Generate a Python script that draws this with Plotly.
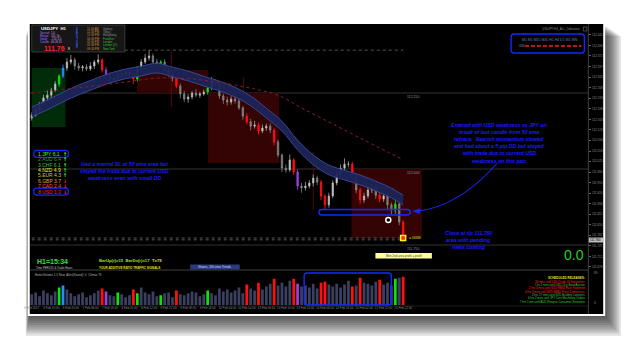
import plotly.graph_objects as go

W, H = 625, 338
def px(x): return x / W
def py(y): return 1 - y / H

# ---------------- data ----------------
closes = [
    112.178, 112.194, 112.214, 112.234, 112.243, 112.260, 112.280, 112.306, 112.332, 112.352,
    112.359, 112.339, 112.332, 112.336, 112.329, 112.339, 112.352, 112.359, 112.326, 112.306,
    112.293, 112.299, 112.309, 112.313, 112.319, 112.309, 112.296, 112.332, 112.352, 112.365,
    112.372, 112.352, 112.345, 112.352, 112.326, 112.313, 112.299, 112.273, 112.247, 112.230,
    112.237, 112.250, 112.243, 112.247, 112.253, 112.266, 112.286, 112.280, 112.240, 112.227,
    112.220, 112.230, 112.224, 112.201, 112.174, 112.155, 112.141, 112.145, 112.125, 112.135,
    112.141, 112.128, 112.089, 112.046, 112.003, 111.997, 112.030, 111.990, 111.944, 111.938,
    111.944, 111.954, 111.970, 111.957, 111.911, 111.882, 111.911, 111.954, 111.984, 112.003,
    112.016, 112.016, 111.970, 111.931, 111.898, 111.911, 111.931, 111.938, 111.914, 111.901,
    111.911, 111.882, 111.865, 111.885, 111.826, 111.766]
first_open = 112.168
wick_up = [0.8, 1.2, 0.6, 1.0, 1.5, 0.7, 0.9, 0.5, 1.1, 1.3,
           1.6, 0.8, 1.0, 0.6, 0.9, 1.2, 0.7, 1.8, 0.5, 0.9,
           1.1, 0.7, 0.8, 1.3, 0.6, 1.0, 0.8, 0.7, 0.9, 1.4,
           1.9, 0.8, 1.1, 0.6, 0.9, 0.7, 1.2, 0.5, 0.8, 1.0,
           0.9, 0.6, 1.3, 0.7, 0.8, 1.0, 1.6, 0.9, 0.6, 0.8,
           1.1, 0.9, 0.7, 0.8, 0.6, 0.9, 1.0, 1.3, 0.7, 1.1,
           0.8, 0.9, 0.6, 0.7, 0.5, 1.2, 1.8, 0.6, 0.8, 1.0,
           1.3, 0.9, 1.2, 0.8, 0.7, 0.6, 1.1, 0.9, 1.0, 1.2,
           1.9, 1.0, 0.8, 0.7, 0.9, 1.1, 1.4, 0.8, 1.0, 0.9,
           1.2, 1.5, 0.8, 1.3, 0.7, 0.6]
wick_dn = [0.9, 0.6, 1.1, 0.7, 0.8, 1.2, 0.6, 0.9, 0.7, 1.0,
           0.8, 1.3, 0.9, 1.1, 0.7, 0.6, 1.0, 0.8, 0.9, 1.2,
           1.4, 0.8, 0.6, 0.9, 1.1, 0.7, 1.6, 0.8, 0.7, 0.6,
           0.9, 1.0, 0.8, 1.2, 0.7, 0.9, 1.1, 0.8, 1.5, 1.0,
           1.2, 0.8, 0.7, 0.9, 0.6, 0.8, 0.7, 1.0, 0.9, 1.3,
           1.1, 0.8, 0.9, 0.7, 1.2, 0.9, 1.4, 0.8, 1.2, 0.7,
           0.9, 1.0, 1.1, 0.8, 1.3, 0.9, 0.7, 1.0, 1.2, 1.6,
           0.9, 0.8, 1.1, 1.0, 1.3, 1.8, 0.9, 0.7, 0.8, 0.9,
           0.7, 1.0, 1.2, 1.1, 1.3, 0.9, 0.8, 1.0, 1.2, 1.1,
           0.9, 1.4, 1.6, 1.2, 1.1, 0.8]
highlight_idx = [7, 8, 18, 19, 22, 26, 27, 33, 37, 45, 55, 58, 62, 67, 68, 74, 75, 82, 84, 89, 93, 95]
highlight_cls = ['g', 'b', 'r', 'p', 'g', 'r', 'g', 'g', 'r', 'g', 'r', 'r', 'r', 'r', 'p', 'r', 'r', 'r', 'r', 'r', 'g', 'r']
volumes = [1100, 1300, 900, 1500, 1200, 1000, 1400, 1800, 2000, 1600,
           1200, 900, 1100, 1300, 800, 1000, 1200, 1500, 1700, 1400,
           1000, 900, 1300, 1100, 800, 1000, 1600, 1200, 1800, 1300,
           1100, 1400, 900, 1000, 1200, 1300, 800, 1500, 1100, 1000,
           1200, 1400, 1300, 900, 1100, 1500, 1200, 1000, 1700, 1400,
           1600, 1300, 1500, 1800, 1200, 2100, 1700, 1500, 2300, 1600,
           1900, 2200, 2700, 2000, 2300, 1900, 2500, 2700, 2200, 1900,
           2000, 1800, 2200, 1700, 2300, 2400, 2100, 1900, 2200, 1800,
           2100, 2500, 1900, 2000, 2800, 2300, 2200, 2000, 2400, 2600,
           2100, 2300, 2000, 2700, 2800, 2900]

ema_x = [0, 4, 8, 12, 16, 20, 24, 28, 32, 36, 40, 44, 48, 52, 56, 60, 64, 68, 72, 76, 80, 84, 88, 92, 95]
ema_upper = [112.204, 112.227, 112.253, 112.276, 112.296, 112.315, 112.329, 112.338, 112.348, 112.335,
             112.322, 112.305, 112.289, 112.269, 112.240, 112.200, 112.157, 112.095, 112.046, 112.013,
             111.996, 111.980, 111.960, 111.937, 111.914]
ema_lower = [112.172, 112.195, 112.221, 112.244, 112.264, 112.283, 112.297, 112.306, 112.316, 112.303,
             112.290, 112.273, 112.257, 112.237, 112.208, 112.168, 112.125, 112.063, 112.014, 111.981,
             111.964, 111.948, 111.928, 111.905, 111.882]
ma_x = [0, 11, 24, 32, 41, 49, 57, 63, 69, 77, 85, 91, 95]
ma_val = [112.250, 112.266, 112.286, 112.299, 112.296, 112.283, 112.263, 112.243, 112.201, 112.148,
          112.095, 112.056, 112.030]

zone_x0 = [0, 26.9, 45.1, 81.8]
zone_x1 = [8.6, 45.1, 63.3, 99.8]
zone_top = [112.332, 112.326, 112.250, 112.000]
zone_bot = [112.138, 112.250, 112.020, 111.773]
zone_kind = ['buy', 'sell', 'sell', 'sell']

level_prices = [112.250, 112.000, 111.750]
level_labels = ["112.250", "112.000", "111.750"]
dotted_prices = [112.391, 111.773, 111.767]
dotted_from = [23.8, 0, 0]
dotted_to = [95, 95, 95]
vline_bar = [35.7, 54.2, 72.0]
vline_top = [112.387, 112.303, 112.056]
vline_bot = [112.204, 112.243, 111.865]

entry_bar, entry_price = [91.2], [111.832]
exit_bar, exit_price = [95], [111.773]

price_ticks = [112.441, 112.406, 112.372, 112.337, 112.302, 112.268, 112.233, 112.198, 112.163,
               112.129, 112.094, 112.059, 112.025, 111.990, 111.955, 111.920, 111.886, 111.851,
               111.816, 111.782, 111.747, 111.712, 111.678]
date_ticks = [0, 5, 10, 15, 20, 25, 30, 35, 40, 45, 50, 55, 60, 65, 70, 75, 80, 85, 90, 95]
date_labels = ["6 Feb 2017", "6 Feb 10:00", "6 Feb 20:00", "7 Feb 06:00", "7 Feb 16:00",
               "8 Feb 02:00", "8 Feb 12:00", "8 Feb 22:00", "9 Feb 08:00", "9 Feb 18:00",
               "10 Feb 04:00", "10 Feb 14:00", "13 Feb 00:00", "13 Feb 10:00", "13 Feb 20:00",
               "14 Feb 06:00", "14 Feb 16:00", "15 Feb 02:00", "15 Feb 12:00", "15 Feb 22:00"]

strength_names = ["1.JPY", "2.AUD", "3.CHF", "4.NZD", "5.EUR", "6.GBP", "7.CAD", "8.USD"]
strength_vals = [6.1, 6.4, 6.1, 4.9, 4.3, 3.7, 2.4, 1.0]
strength_cols = ["#30ff30", "#2aa02a", "#40c040", "#e8e830", "#c8c840", "#e0a030", "#ff5030", "#ff2020"]
strength_up = [True, True, True, True, True, False, False, False]

news_lines = ["30 mins until USD Crude Oil Inventories", "1 hr 2 mins until USD 10-y Bond Auction",
              "2 hrs 3 mins until NZD RBNZ Rate Statement", "4 hrs 3 mins until NZD RBNZ Press Conference",
              "4 hrs 17 mins until NZD Building Consents", "6 hrs 2 mins until JPY Core Machinery Orders",
              "7 hrs 1 min until AUD Westpac Consumer Sentiment"]
news_cols = ["#ff2020", "#30d030", "#ff2020", "#ff2020", "#30d030", "#30d030", "#30d030"]

# ---------------- derived ----------------
n = len(closes)
bars = list(range(n))
opens = [first_open] + closes[:-1]
highs = [max(o, c) + u / 100 for o, c, u in zip(opens, closes, wick_up)]
lows = [min(o, c) - d / 100 for o, c, d in zip(opens, closes, wick_dn)]
cls_of = dict(zip(highlight_idx, highlight_cls))
CLR = {'r': '#ff1010', 'g': '#10e010', 'p': '#9a40e0', 'b': '#2a8cff'}

# axis geometry (pixel layout)
BX0, BX1 = 26, 401
s = (BX1 - BX0) / (n - 1)
x_range = [(24 - BX0) / s, (588 - BX0) / s]
def price_at(y): return 112.25 + (93 - y) * 0.25 / 76
y_range = [price_at(270), price_at(24)]

fig = go.Figure()
def sub(idx, arr): return [arr[i] for i in idx]

# EMA band
fig.add_trace(go.Scatter(x=ema_x, y=ema_upper, mode='lines', line=dict(color='#3a4690', width=1, shape='spline'),
                         hoverinfo='skip'))
fig.add_trace(go.Scatter(x=ema_x, y=ema_lower, mode='lines', line=dict(color='#3a4690', width=1, shape='spline'),
                         fill='tonexty', fillcolor='rgba(28,36,88,0.95)', hoverinfo='skip'))
# 200 MA dotted
fig.add_trace(go.Scatter(x=ma_x, y=ma_val, mode='lines', line=dict(color='#8c1a32', width=1, dash='dot', shape='spline'),
                         hoverinfo='skip'))

normal = [i for i in bars if i not in cls_of]
fig.add_trace(go.Candlestick(x=normal, open=sub(normal, opens), high=sub(normal, highs), low=sub(normal, lows),
                             close=sub(normal, closes), whiskerwidth=0,
                             increasing=dict(line=dict(color='#b8b8b8', width=0.7), fillcolor='#d8d8d8'),
                             decreasing=dict(line=dict(color='#909090', width=0.7), fillcolor='#6a6a6a'),
                             hoverinfo='skip'))
for k, col in CLR.items():
    idx = [i for i in bars if cls_of.get(i) == k]
    if not idx:
        continue
    fig.add_trace(go.Candlestick(x=idx, open=sub(idx, opens), high=sub(idx, highs), low=sub(idx, lows),
                                 close=sub(idx, closes), whiskerwidth=0,
                                 increasing=dict(line=dict(color=col, width=0.9), fillcolor=col),
                                 decreasing=dict(line=dict(color=col, width=0.9), fillcolor=col),
                                 hoverinfo='skip'))

# trade markers
fig.add_trace(go.Scatter(x=entry_bar, y=entry_price, mode='markers',
                         marker=dict(symbol='circle', size=5, color='#000000', line=dict(color='#ffffff', width=1.5)),
                         hoverinfo='skip'))
fig.add_trace(go.Scatter(x=exit_bar, y=exit_price, mode='markers',
                         marker=dict(symbol='square', size=5, color='#ff2020', line=dict(color='#ffff00', width=1.5)),
                         hoverinfo='skip'))

# volume
vcols = [CLR.get(cls_of.get(i), '#3c4060') for i in bars]
fig.add_trace(go.Bar(x=bars, y=volumes, marker=dict(color=vcols, line=dict(width=0)), yaxis='y2',
                     hoverinfo='skip'))

shapes = []
ann = []

def prect(x0, y0, x1, y1, fill=None, line=None, lw=0, layer='below', opacity=1):
    shapes.append(dict(type='rect', xref='paper', yref='paper', x0=px(x0), x1=px(x1), y0=py(y1), y1=py(y0),
                       fillcolor=fill, line=dict(color=line or 'rgba(0,0,0,0)', width=lw), layer=layer,
                       opacity=opacity))

def pline(x0, y0, x1, y1, color, lw=0.8, dash='solid', layer='above'):
    shapes.append(dict(type='line', xref='paper', yref='paper', x0=px(x0), x1=px(x1), y0=py(y0), y1=py(y1),
                       line=dict(color=color, width=lw, dash=dash), layer=layer))

def rrect(x0, y0, x1, y1, r, color, lw=1.3, fill=None):
    P = lambda x, y: f"{px(x):.5f},{py(y):.5f}"
    path = (f"M {P(x0 + r, y0)} L {P(x1 - r, y0)} Q {P(x1, y0)} {P(x1, y0 + r)} L {P(x1, y1 - r)} "
            f"Q {P(x1, y1)} {P(x1 - r, y1)} L {P(x0 + r, y1)} Q {P(x0, y1)} {P(x0, y1 - r)} "
            f"L {P(x0, y0 + r)} Q {P(x0, y0)} {P(x0 + r, y0)} Z")
    shapes.append(dict(type='path', xref='paper', yref='paper', path=path,
                       line=dict(color=color, width=lw), fillcolor=fill or 'rgba(0,0,0,0)', layer='above'))

def txt(x, y, s_, size, color, anchor='left', weight='normal', style='normal', family='Liberation Sans'):
    ann.append(dict(x=px(x), y=py(y), xref='paper', yref='paper', text=s_, showarrow=False,
                    xanchor=anchor, yanchor='middle',
                    font=dict(size=size, color=color, family=family, weight=weight, style=style)))

# shadow + frame + panel
for k in range(1, 11):
    prect(24 - k * 0.4, 24 + k * 1.2, 603 + k * 1.8, 314 + k * 2.2, fill='rgba(0,0,0,0.10)')
prect(22, 22, 605, 316, fill='#ffffff')
prect(24, 24, 603, 314, fill='#000000')

# zones (data coords)
for x0, x1, t, b, kind in zip(zone_x0, zone_x1, zone_top, zone_bot, zone_kind):
    shapes.append(dict(type='rect', xref='x', yref='y', x0=x0, x1=x1, y0=b, y1=t,
                       fillcolor='#002c0a' if kind == 'buy' else '#340404', line=dict(width=0), layer='below'))
for b, t_, b_ in zip(vline_bar, vline_top, vline_bot):
    shapes.append(dict(type='line', xref='x', yref='y', x0=b, x1=b, y0=b_, y1=t_,
                       line=dict(color='#6a0c0c', width=0.8), layer='below'))
# levels
for p, lab in zip(level_prices, level_labels):
    shapes.append(dict(type='line', xref='paper', yref='y', x0=px(24), x1=px(588), y0=p, y1=p,
                       line=dict(color='#404040', width=0.8), layer='below'))
    ann.append(dict(x=px(411), y=p, xref='paper', yref='y', text=lab, showarrow=False, xanchor='center',
                    yanchor='top', font=dict(size=3.5, color='#909090', family='Liberation Sans')))
for p, a, b in zip(dotted_prices, dotted_from, dotted_to):
    shapes.append(dict(type='line', xref='x', yref='y', x0=a, x1=b, y0=p, y1=p,
                       line=dict(color='#7a7a7a', width=0.7, dash='dot'), layer='below'))

# separators
pline(24, 270, 588, 270, '#505050', 0.8)
pline(588, 24, 588, 314, '#505050', 0.8)
pline(24, 306, 588, 306, '#303030', 0.6)

# info box top-left
prect(26, 25, 120, 52, fill='#161616', line='#555555', lw=0.6, layer='above')
txt(33, 28.5, "USDJPY  H1", 4.3, '#ffffff', weight='bold')
for i, (lab, val) in enumerate([("Spread:", "1.0"), ("Range:", "101.7p"), ("Swap:", "-2.6/-5.0"),
                                ("Candle:", "00:26:15")]):
    txt(32, 32.8 + i * 3.1, lab, 2.8, '#a070ff')
    txt(43, 32.8 + i * 3.1, val, 2.8, '#d0a0e0')
txt(36, 48, "111.76", 7, '#ff2020', weight='bold')
txt(61, 49, "8", 3.2, '#ffffff')
for i, ch in enumerate("SESSIONS"):
    txt(72, 29 + i * 2.6, ch, 2.6, '#4060ff', anchor='center', weight='bold')
times = ["11:34 AM", "12:34 PM", "12:34 PM", "04:34 PM", "05:34 PM", "05:34 PM", "09:34 PM"]
sessions = ["Sydney", "Tokyo", "HongKong", "Frankfurt", "London", "London (O)", "New York"]
scol = ['#909090', '#909090', '#909090', '#30c030', '#30c030', '#30c030', '#30c030']
for i, (t_, s_, c_) in enumerate(zip(times, sessions, scol)):
    txt(80, 28.5 + i * 3.4, t_, 2.8, '#d09040')
    txt(96, 28.5 + i * 3.4, s_, 2.8, c_)

# top right
txt(582, 29, "USDJPY,H1_ALL_Indicators", 3, '#8a8a8a', anchor='right')
prect(583, 27, 586.5, 31, line='#8a8a8a', lw=0.5, layer='above')
rrect(510, 34, 584, 53, 3, '#1428ff', 1.4)
txt(549, 40, "M1 M5 M15 M30 H1 H4 D1 W1 MN", 3.5, '#6a7ab8', anchor='center')
txt(516, 46, "USD", 2.8, '#8090c0')
pline(524, 46, 581, 46, '#ff1a1a', 1.6, dash='4px,2px')

# price axis current price box
prect(588.5, 237.5, 603, 242.5, fill='#bdbdbd', layer='above')
txt(595.5, 240, "111.760", 3, '#000000', anchor='center')

# currency strength
for i, (nm, v, c_, up) in enumerate(zip(strength_names, strength_vals, strength_cols, strength_up)):
    y = 153.8 + i * 5.4
    txt(30, y, f"{nm} {v:.1f}", 5, c_)
    txt(60, y, "↑" if up else "↓", 5, '#30ff30' if up else '#ff2020', anchor='center', weight='bold',
        family='DejaVu Sans')
rrect(28, 150.3, 63, 157.3, 3, '#1428ff', 1.2)
rrect(28, 188.1, 63, 195.1, 3, '#1428ff', 1.2)

BLUE = '#1a1aff'
left_note = ["Had a mental SL at 50 ema area but", "stayed the trade due to current USD",
             "weakness even with small DD"]
for i, l in enumerate(left_note):
    txt(120, 164 + i * 7.1, l, 5.2, BLUE, anchor='center', weight='bold', style='italic')
right_note = ["Entered with USD weakness vs JPY on", "break of last candle from 50 ema",
              "retrace.  Bearish momentum slowed", "and had about a 5 pip DD but stayed",
              "with trade due to current USD", "weakness on this pair."]
for i, l in enumerate(right_note):
    txt(498, 125 + i * 7.1, l, 5.2, BLUE, anchor='center', weight='bold', style='italic')
close_note = ["Close at t/p 111.760", "area with pending", "news coming"]
for i, l in enumerate(close_note):
    txt(467, 233 + i * 7.1, l, 5.2, BLUE, anchor='center', weight='bold', style='italic')

# blue box around lows + arrow
rrect(316, 209.5, 408, 215, 2.7, '#1428ff', 1.4)
P = lambda x, y: f"{px(x):.5f},{py(y):.5f}"
shapes.append(dict(type='path', xref='paper', yref='paper', path=f"M {P(496, 163)} Q {P(458, 206)} {P(416, 211)}",
                   line=dict(color='#1428ff', width=1.1), layer='above'))
shapes.append(dict(type='path', xref='paper', yref='paper',
                   path=f"M {P(411, 211.2)} L {P(418, 208.6)} L {P(417.5, 213.6)} Z",
                   line=dict(color='#1428ff', width=0.5), fillcolor='#1428ff', layer='above'))
txt(405, 238, "= 0034", 3.8, '#e8e020')

# bottom texts in main window
txt(574, 255, "0.0", 14, '#20d020', anchor='center')
txt(29, 261.8, "H1=15:34", 7, '#30e030', weight='bold')
txt(28, 268, "Time PERIOD & Trade Hours", 2.8, '#c0c0c0')
txt(92, 260, "BarUp(r)=15  BarDn(r)=17", 4.2, '#a8e020', weight='bold')
txt(145, 260, "T=79", 4.2, '#e8e020', weight='bold')
txt(92, 268, "YOUR ADDITIVE RATIO TRAFFIC SIGNALS", 3, '#e8e020', weight='bold')
prect(186, 264.5, 236, 269.5, fill='#2c3a80', layer='above')
txt(211, 267, "Shares, 200 ema Trends", 3, '#d0d8ff', anchor='center')
prect(373, 253, 430, 258.5, fill='#ffffa0', layer='above')
txt(401.5, 255.8, "Mini 2nd area profit = profit", 3, '#404000', anchor='center')

# volume window texts
txt(27, 274.5, "BetterVolume 1.5 New  Alert(Sound): 0  Climax 79", 3, '#b0b0b0')
rrect(301, 273, 389, 305, 3, '#1428ff', 1.4)
txt(592, 272.5, "89", 3, '#909090')
txt(592, 303, "0", 3, '#909090')
txt(587, 278, "SCHEDULED RELEASES:", 3, '#e8e020', anchor='right', weight='bold')
for i, (l, c_) in enumerate(zip(news_lines, news_cols)):
    txt(587, 281.6 + i * 3.35, l, 2.8, c_, anchor='right')

fig.update_layout(
    width=W, height=H, autosize=False, margin=dict(l=0, r=0, t=0, b=0),
    paper_bgcolor='#ffffff', plot_bgcolor='rgba(0,0,0,0)', showlegend=False, hovermode=False,
    boxgap=0.5,
    xaxis=dict(domain=[px(24), px(588)], range=x_range, anchor='y2', rangeslider=dict(visible=False),
               showgrid=False, zeroline=False, showline=False, tickmode='array', tickvals=date_ticks,
               ticktext=date_labels, tickangle=0, ticks='', tickfont=dict(size=3, color='#8a8a8a',
                                                                           family='Liberation Sans')),
    yaxis=dict(domain=[py(270), py(24)], range=y_range, anchor='x', side='right', showgrid=False,
               zeroline=False, showline=False, tickmode='array', tickvals=price_ticks,
               ticktext=[f"{v:.3f}" for v in price_ticks], ticks='outside', ticklen=2, tickcolor='#606060',
               tickfont=dict(size=3, color='#8a8a8a', family='Liberation Sans')),
    yaxis2=dict(domain=[py(305), py(272)], range=[0, 3400], anchor='x', showgrid=False, zeroline=False,
                showticklabels=False, showline=False),
    bargap=0.3, shapes=shapes, annotations=ann,
)
fig.write_html("out.html", config=dict(displayModeBar=False))
